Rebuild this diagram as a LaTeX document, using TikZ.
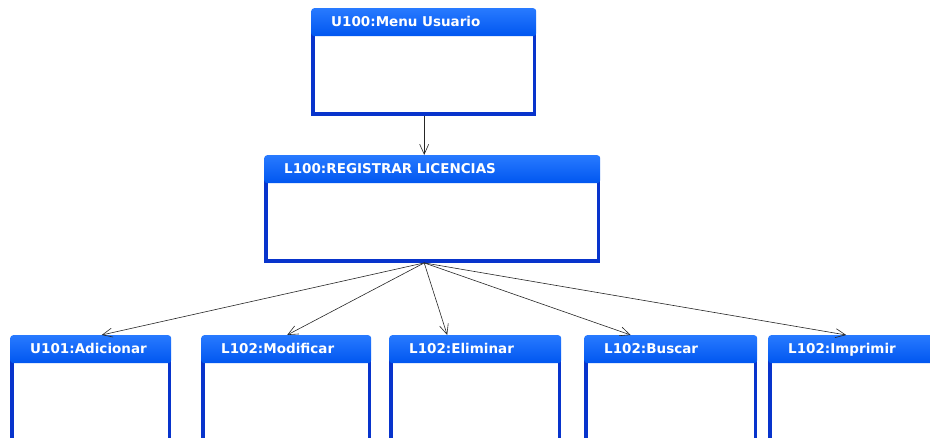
\documentclass[tikz,border=0pt]{standalone}
\usepackage{fontspec}
\setmainfont{DejaVu Sans}
\usetikzlibrary{arrows.meta, positioning}
\definecolor{xFrame}{RGB}{8,52,204}
\definecolor{xHdrTop}{RGB}{40,122,255}
\definecolor{xHdrBot}{RGB}{0,86,240}
\pgfdeclarelayer{back}
\pgfsetlayers{back,main}
\newcommand{\Ttl}[1]{\textbf{#1}}
\tikzset{
  objbox/.style={draw=xFrame, line width=3.5pt, fill=white, inner sep=0pt, anchor=north, yshift=4pt},
  hdr/.style={anchor=north west, minimum height=28pt, inner sep=0pt, text=white, font=\fontsize{13.5}{15}\selectfont,
              top color=xHdrTop, bottom color=xHdrBot, rounded corners=3pt, align=left, text height=10.5pt, text depth=2.5pt},
  msg/.style={-{Straight Barb[length=10pt, width=9pt]}, semithick, black!85},
}
\begin{document}
\begin{tikzpicture}[x=1pt, y=-1pt]
    \useasboundingbox (0,0) rectangle (930,438);
    \clip (0,0) rectangle (930,438);
    % upper objects
    \node[hdr, minimum width=225pt, text width=185pt] (menuH) at (311,8) {\Ttl{U100:Menu Usuario}};
    \node[hdr, minimum width=336pt, text width=296pt] (licH) at (264,155) {\Ttl{L100:REGISTRAR LICENCIAS}};
    % lower objects
    \node[hdr, minimum width=161pt, text width=121pt] (addH) at (10,335) {\Ttl{U101:Adicionar}};
    \node[hdr, minimum width=170pt, text width=130pt] (modH) at (201,335) {\Ttl{L102:Modificar}};
    \node[hdr, minimum width=172pt, text width=132pt] (delH) at (389,335) {\Ttl{L102:Eliminar}};
    \node[hdr, minimum width=173pt, text width=133pt] (findH) at (584,335) {\Ttl{L102:Buscar}};
    \node[hdr, minimum width=184pt, text width=144pt] (prnH) at (768,335) {\Ttl{L102:Imprimir}};
    % bodies under the headers
    \begin{pgfonlayer}{back}
      \node[objbox, minimum width=221.5pt, minimum height=80pt] (menu) at (menuH.south) {};
      \node[objbox, minimum width=332.5pt, minimum height=80pt] (lic) at (licH.south) {};
      \node[objbox, minimum width=157.5pt, minimum height=120pt] (add) at (addH.south) {};
      \node[objbox, minimum width=166.5pt, minimum height=120pt] (mod) at (modH.south) {};
      \node[objbox, minimum width=168.5pt, minimum height=120pt] (del) at (delH.south) {};
      \node[objbox, minimum width=169.5pt, minimum height=120pt] (find) at (findH.south) {};
      \node[objbox, minimum width=180.5pt, minimum height=120pt] (prn) at (prnH.south) {};
    \end{pgfonlayer}
    % messages
    \draw[msg] ([xshift=0.5pt]menu.south) -- ([xshift=-8pt]licH.north);
    \coordinate (fan) at ([xshift=-8pt]lic.south);
    \draw[msg] (fan) -- ([xshift=11pt]addH.north);
    \draw[msg] (fan) -- ([xshift=1pt]modH.north);
    \draw[msg] (fan) -- ([xshift=-28pt]delH.north);
    \draw[msg] (fan) -- ([xshift=-40pt]findH.north);
    \draw[msg] (fan) -- ([xshift=-14pt]prnH.north);
\end{tikzpicture}
\end{document}
